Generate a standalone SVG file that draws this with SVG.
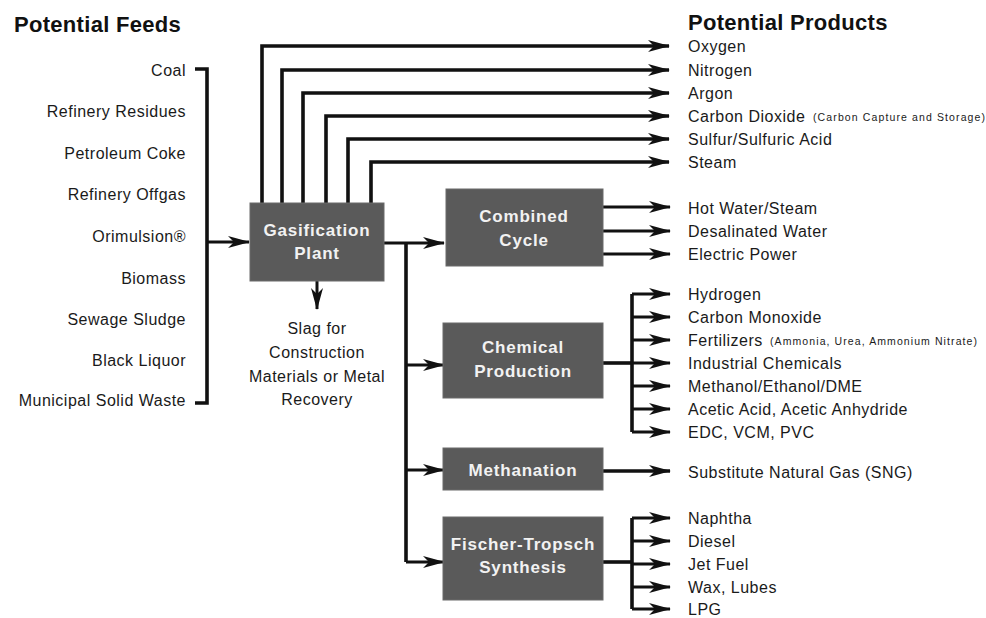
<svg xmlns="http://www.w3.org/2000/svg" width="986" height="618" viewBox="0 0 986 618">
<defs>
<marker id="ah" viewBox="0 0 22 13" refX="21" refY="6.5" markerWidth="22" markerHeight="13" markerUnits="userSpaceOnUse" orient="auto">
<path d="M0,0.5 L22,6.5 L0,12.5 L6,6.5 Z" fill="#111"/>
</marker>
<style>
.t{font-family:"Liberation Sans",Arial,sans-serif;font-size:16px;letter-spacing:0.5px;fill:#1a1a1a}
.r{text-anchor:end}
.m{text-anchor:middle}
.h{font-family:"Liberation Sans",Arial,sans-serif;font-size:22px;font-weight:bold;letter-spacing:0.3px;fill:#111}
.s{font-family:"Liberation Sans",Arial,sans-serif;font-size:10.5px;fill:#1a1a1a}
.bx{fill:#5a5a5a;stroke:#6a6a6a;stroke-width:1}
.bt{font-family:"Liberation Sans",Arial,sans-serif;font-size:17px;font-weight:bold;letter-spacing:0.8px;fill:#f2f2f2;text-anchor:middle}
.c{fill:none;stroke:#111;stroke-width:3}
.k{stroke-width:3.6}
.a{marker-end:url(#ah)}
</style>
</defs>
<rect width="986" height="618" fill="#fff"/>

<text class="h" x="14" y="32">Potential Feeds</text>
<text class="h" x="688" y="30">Potential Products</text>

<g id="feeds">
<text class="t r" x="186" y="76">Coal</text>
<text class="t r" x="186" y="117">Refinery Residues</text>
<text class="t r" x="186" y="159">Petroleum Coke</text>
<text class="t r" x="186" y="200">Refinery Offgas</text>
<text class="t r" x="186" y="242">Orimulsion®</text>
<text class="t r" x="186" y="284">Biomass</text>
<text class="t r" x="186" y="325">Sewage Sludge</text>
<text class="t r" x="186" y="366">Black Liquor</text>
<text class="t r" x="186" y="406">Municipal Solid Waste</text>
</g>

<g id="connectors">
<path class="c k" d="M195,69 H207 V403 H195"/>
<path class="c a" d="M207,242 H249"/>
<path class="c k a" d="M262,203 V46 H669"/>
<path class="c k a" d="M282,203 V70 H669"/>
<path class="c k a" d="M303,203 V93 H669"/>
<path class="c k a" d="M326,203 V116 H669"/>
<path class="c k a" d="M348,203 V139 H669"/>
<path class="c k a" d="M371,203 V162 H669"/>
<path class="c a" d="M317,281 V309"/>
<path class="c a" d="M384,243 H444"/>
<path class="c k" d="M406,243 V562"/>
<path class="c a" d="M406,365 H444"/>
<path class="c a" d="M406,470 H444"/>
<path class="c a" d="M406,562 H444"/>
<path class="c a" d="M603,207 H670"/>
<path class="c a" d="M603,231 H670"/>
<path class="c a" d="M603,254 H670"/>
<path class="c k" d="M603,363 H632"/>
<path class="c k" d="M632,294 V432"/>
<path class="c a" d="M632,294 H670"/>
<path class="c a" d="M632,317 H670"/>
<path class="c a" d="M632,340 H670"/>
<path class="c a" d="M632,363 H670"/>
<path class="c a" d="M632,386 H670"/>
<path class="c a" d="M632,409 H670"/>
<path class="c a" d="M632,432 H670"/>
<path class="c k a" d="M603,471 H670"/>
<path class="c k" d="M603,562 H632"/>
<path class="c k" d="M632,518 V609"/>
<path class="c a" d="M632,518 H670"/>
<path class="c a" d="M632,541 H670"/>
<path class="c a" d="M632,564 H670"/>
<path class="c a" d="M632,587 H670"/>
<path class="c a" d="M632,609 H670"/>
</g>

<g id="gasification">
<rect class="bx" x="250" y="203" width="134" height="78"/>
<text class="bt" x="317" y="236">Gasification</text>
<text class="bt" x="317" y="259">Plant</text>
</g>

<g id="slag">
<text class="t m" x="317" y="334">Slag for</text>
<text class="t m" x="317" y="358">Construction</text>
<text class="t m" x="317" y="382">Materials or Metal</text>
<text class="t m" x="317" y="405">Recovery</text>
</g>

<g id="combined-cycle">
<rect class="bx" x="446" y="189" width="157" height="77"/>
<text class="bt" x="524" y="222">Combined</text>
<text class="bt" x="524" y="246">Cycle</text>
</g>

<g id="chemical-production">
<rect class="bx" x="443" y="323" width="160" height="75"/>
<text class="bt" x="523" y="353">Chemical</text>
<text class="bt" x="523" y="377">Production</text>
</g>

<g id="methanation">
<rect class="bx" x="443" y="448" width="160" height="42"/>
<text class="bt" x="523" y="476">Methanation</text>
</g>

<g id="fischer-tropsch">
<rect class="bx" x="443" y="517" width="160" height="83"/>
<text class="bt" x="523" y="550">Fischer-Tropsch</text>
<text class="bt" x="523" y="573">Synthesis</text>
</g>

<g id="products">
<text class="t" x="688" y="52">Oxygen</text>
<text class="t" x="688" y="76">Nitrogen</text>
<text class="t" x="688" y="99">Argon</text>
<text class="t" x="688" y="122">Carbon Dioxide</text>
<text class="s" x="813" y="121" textLength="172" lengthAdjust="spacing">(Carbon Capture and Storage)</text>
<text class="t" x="688" y="145">Sulfur/Sulfuric Acid</text>
<text class="t" x="688" y="168">Steam</text>
<text class="t" x="688" y="214">Hot Water/Steam</text>
<text class="t" x="688" y="237">Desalinated Water</text>
<text class="t" x="688" y="260">Electric Power</text>
<text class="t" x="688" y="300">Hydrogen</text>
<text class="t" x="688" y="323">Carbon Monoxide</text>
<text class="t" x="688" y="346">Fertilizers</text>
<text class="s" x="770" y="345" textLength="207" lengthAdjust="spacing">(Ammonia, Urea, Ammonium Nitrate)</text>
<text class="t" x="688" y="369">Industrial Chemicals</text>
<text class="t" x="688" y="392">Methanol/Ethanol/DME</text>
<text class="t" x="688" y="415">Acetic Acid, Acetic Anhydride</text>
<text class="t" x="688" y="438">EDC, VCM, PVC</text>
<text class="t" x="688" y="478">Substitute Natural Gas (SNG)</text>
<text class="t" x="688" y="524">Naphtha</text>
<text class="t" x="688" y="547">Diesel</text>
<text class="t" x="688" y="570">Jet Fuel</text>
<text class="t" x="688" y="593">Wax, Lubes</text>
<text class="t" x="688" y="615">LPG</text>
</g>
</svg>
